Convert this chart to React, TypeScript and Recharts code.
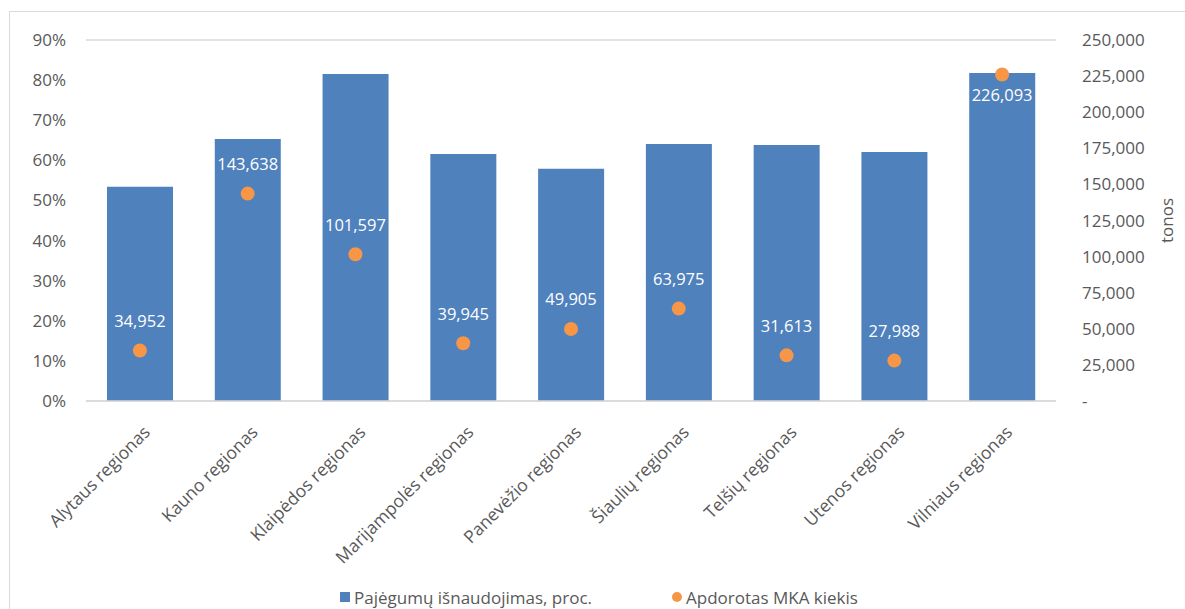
import React from "react";
import { ComposedChart, Bar, Scatter, XAxis, YAxis, CartesianGrid, Legend } from "recharts";

const categories = [
  "Alytaus regionas",
  "Kauno regionas",
  "Klaipėdos regionas",
  "Marijampolės regionas",
  "Panevėžio regionas",
  "Šiaulių regionas",
  "Telšių regionas",
  "Utenos regionas",
  "Vilniaus regionas",
];
const utilization = [53.4, 65.3, 81.5, 61.6, 57.9, 64.1, 63.8, 62.1, 81.8];
const processed = [34952, 143638, 101597, 39945, 49905, 63975, 31613, 27988, 226093];
const percentTicks = [0, 10, 20, 30, 40, 50, 60, 70, 80, 90];
const tonTicks = [0, 25000, 50000, 75000, 100000, 125000, 150000, 175000, 200000, 225000, 250000];

const barName = "Pajėgumų išnaudojimas, proc.";
const dotName = "Apdorotas MKA kiekis";

const data = categories.map((name, i) => ({
  name,
  util: utilization[i],
  tons: processed[i],
}));

const FONT = "'Open Sans', sans-serif";
const TEXT = "#595959";
const BLUE = "#4F81BD";
const ORANGE = "#F79646";

const fmt = (v: number) => (v === 0 ? "-" : v.toLocaleString("en-US"));

const XTick = (props: any) => {
  const { x, y, payload } = props;
  return (
    <g transform={`translate(${x + 7},${y + 20})`}>
      <text transform="rotate(-45)" textAnchor="end" fontSize={17.5} fill={TEXT} fontFamily={FONT} dy="0.35em">
        {payload.value}
      </text>
    </g>
  );
};

const Dot = (props: any) => {
  const { cx, cy, payload } = props;
  const below = payload.tons > 200000;
  return (
    <g>
      <circle cx={cx} cy={cy} r={7} fill={ORANGE} />
      <text
        x={cx}
        y={below ? cy + 20 : cy - 30}
        textAnchor="middle"
        dominantBaseline="central"
        fill="#ffffff"
        fontSize={16.5}
        fontFamily={FONT}
      >
        {fmt(payload.tons)}
      </text>
    </g>
  );
};

const TonosLabel = (props: any) => {
  const { viewBox } = props;
  const x = viewBox.x + viewBox.width + 30;
  const y = viewBox.y + viewBox.height / 2;
  return (
    <text
      x={x}
      y={y}
      transform={`rotate(-90, ${x}, ${y})`}
      textAnchor="middle"
      dominantBaseline="central"
      fill={TEXT}
      fontSize={17}
      fontFamily={FONT}
    >
      tonos
    </text>
  );
};

const LegendContent = () => (
  <div
    style={{
      display: "flex",
      justifyContent: "center",
      alignItems: "center",
      gap: 80,
      height: 24,
      fontFamily: FONT,
      fontSize: 17,
      color: TEXT,
      paddingLeft: 36,
    }}
  >
    <span style={{ display: "flex", alignItems: "center" }}>
      <span style={{ width: 10, height: 10, background: BLUE, marginRight: 4 }} />
      {barName}
    </span>
    <span style={{ display: "flex", alignItems: "center" }}>
      <span style={{ width: 10, height: 10, borderRadius: 5, background: ORANGE, marginRight: 4 }} />
      {dotName}
    </span>
  </div>
);

export default function App() {
  return (
    <div style={{ position: "fixed", left: 0, top: 0, width: 1185, height: 609, overflow: "hidden", background: "#fff" }}>
      <div
        style={{
          position: "absolute",
          left: 9,
          top: 11,
          width: 1200,
          height: 620,
          border: "1.5px solid #d9d9d9",
        }}
      />
      <ComposedChart
        width={1185}
        height={609}
        data={data}
        margin={{ top: 40, right: 49, left: 26, bottom: 0 }}
        style={{ position: "absolute", left: 0, top: 0 }}
      >
        <CartesianGrid vertical={false} stroke="#d9d9d9" strokeWidth={1.5} />
        <XAxis
          dataKey="name"
          interval={0}
          height={184}
          tick={<XTick />}
          tickLine={false}
          axisLine={{ stroke: "#d9d9d9", strokeWidth: 1.5 }}
        />
        <YAxis
          yAxisId="left"
          domain={[0, 90]}
          ticks={percentTicks}
          width={60}
          tickSize={0}
          tickMargin={20}
          axisLine={false}
          tickLine={false}
          tickFormatter={(v) => `${v}%`}
          tick={{ fill: TEXT, fontSize: 17, fontFamily: FONT }}
        />
        <YAxis
          yAxisId="right"
          orientation="right"
          domain={[0, 250000]}
          ticks={tonTicks}
          width={80}
          tickSize={0}
          tickMargin={26}
          axisLine={false}
          tickLine={false}
          tickFormatter={fmt}
          tick={{ fill: TEXT, fontSize: 17, fontFamily: FONT, textAnchor: "start" }}
          label={{ content: <TonosLabel /> }}
        />
        <Legend verticalAlign="bottom" content={<LegendContent />} />
        <Bar yAxisId="left" dataKey="util" name={barName} fill={BLUE} barSize={66} isAnimationActive={false} />
        <Scatter yAxisId="right" dataKey="tons" name={dotName} fill={ORANGE} shape={<Dot />} isAnimationActive={false} />
      </ComposedChart>
    </div>
  );
}
